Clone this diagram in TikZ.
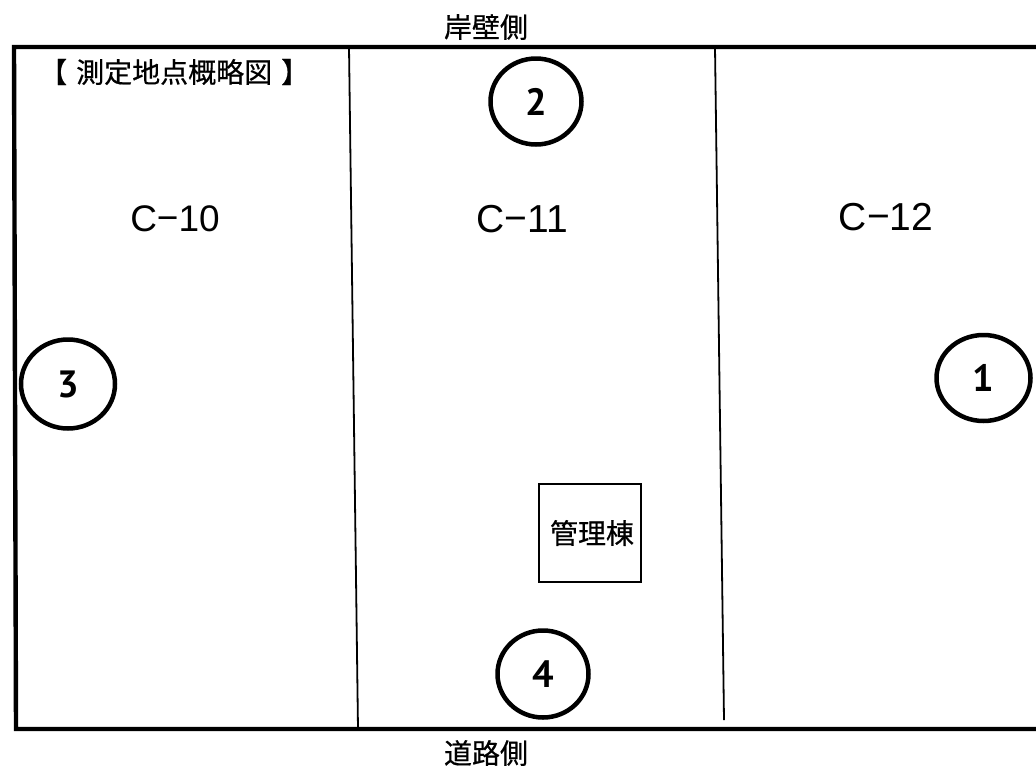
\documentclass[tikz,border=0pt]{standalone}
\usepackage{fontspec}
\usetikzlibrary{shapes.geometric}
\setmainfont[FakeBold=0.3]{Noto Sans CJK JP}
\newfontfamily\jpbold[FakeBold=0.5]{Noto Sans CJK JP}
\newfontfamily\latin{Liberation Sans}
\newfontfamily\digits{PT Sans}
\begin{document}
\begin{tikzpicture}[x=1pt,y=-1pt,
 lab/.style={inner sep=0pt,font=\jpbold\fontsize{28}{30}\selectfont},
 zone/.style={inner sep=0pt,font=\latin\fontsize{39}{41}\selectfont},
 num/.style={ellipse,draw=black,line width=4.5pt,inner sep=0pt,font=\digits\bfseries\fontsize{38}{40}\selectfont},
 div/.style={line width=1.8pt}]
\useasboundingbox (0,0) rectangle (1036,766);
\fill[white] (0,0) rectangle (1036,766);
\coordinate (tl) at (14,47);
\coordinate (tr) at (1036,47);
\coordinate (br) at (1036,729);
\coordinate (bl) at (16,729);
\draw[line width=4.4pt] (tr) -- (tl) -- (bl) -- (br);
\coordinate (a1) at (349,47);\coordinate (a2) at (358,729);
\coordinate (b1) at (715,47);\coordinate (b2) at (724,720);
\draw[div] (a1)--(a2);
\draw[div] (b1)--(b2);
\node[lab] (top) at (486,27) {岸壁側};
\node[lab] (bot) at (486,753) {道路側};
\node[lab,anchor=west] (title) at (39,72) {【\hspace{9pt}測定地点概略図\hspace{9pt}】};
\node[zone,font=\latin\fontsize{37}{41}\selectfont] (c10) at (175,219) {C{\raisebox{1pt}{−}}10};
\node[zone] (c11) at (522,219) {C{\raisebox{1pt}{−}}11};
\node[zone] (c12) at (886,217) {C{\raisebox{1pt}{−}}12};
\node[num,minimum width=91pt,minimum height=86pt] (n2) at (536,101.5) {2};
\node[num,minimum width=94pt,minimum height=89pt] (n3) at (68,384) {3};
\node[num,minimum width=94pt,minimum height=86pt] (n1) at (983.5,378) {1};
\node[num,minimum width=91pt,minimum height=87pt] (n4) at (543,674) {4};
\node[draw=black,line width=1.7pt,minimum width=102pt,minimum height=98pt,inner sep=0pt,font=\jpbold\fontsize{28}{30}\selectfont] (kanri) at (590,533) {\hspace*{4pt}管理棟};
\end{tikzpicture}
\end{document}
